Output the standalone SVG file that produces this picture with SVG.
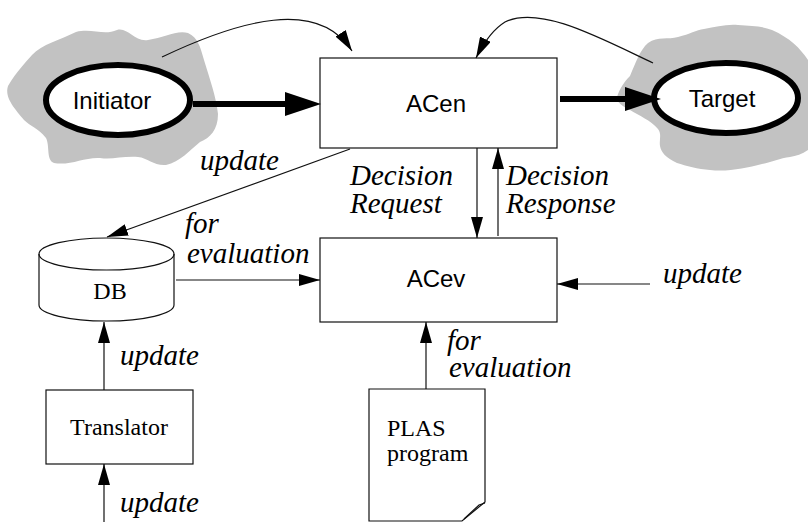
<svg xmlns="http://www.w3.org/2000/svg" width="808" height="522" viewBox="0 0 808 522">
<defs>
<style>
.box{fill:#fff;stroke:#111;stroke-width:1.2}
.ell{fill:#fff;stroke:#000;stroke-width:6}
.cloud{fill:#c2c2c2;stroke:none}
.sans{font-family:"Liberation Sans",Arial,sans-serif;font-size:24px;fill:#000}
.serif{font-family:"Liberation Serif","Times New Roman",serif;font-size:24px;fill:#000}
.lbl{font-family:"Liberation Serif","Times New Roman",serif;font-size:29px;font-style:italic;fill:#000}
.thin{fill:none;stroke:#111;stroke-width:1.2}
.thick{fill:none;stroke:#000;stroke-width:6}
</style>
<marker id="ah" markerUnits="userSpaceOnUse" markerWidth="22" markerHeight="12" refX="21" refY="6" orient="auto">
<path d="M0,0 L21,6 L0,12 z" fill="#000"/>
</marker>
</defs>

<g id="initiator">
<path class="cloud" d="M8,86 C16,72 26,62 32,55 C42,44 60,40 76,32 C92,28 104,36 117,30 C128,27 134,42 148,40 C164,38 176,30 188,33 C198,38 200,46 204,60 C210,80 216,96 218,114 C218,130 210,138 200,142 C190,150 180,162 166,165 C154,166 148,158 138,157 C122,156 112,160 100,158 C84,157 70,166 54,163 C46,160 50,146 46,138 C38,128 30,126 24,120 C16,110 4,98 8,86 Z"/>
<ellipse class="ell" cx="118" cy="100" rx="72" ry="35"/>
<text class="sans" x="112" y="109" text-anchor="middle">Initiator</text>
</g>

<g id="target">
<path class="cloud" d="M617,97 C620,88 624,82 630,76 C636,62 640,50 648,43 C658,36 668,40 678,37 C690,34 696,30 704,29 C716,27 726,24 738,25 C752,26 762,26 772,30 C790,38 800,48 808,60 L808,150 C802,154 796,156 790,157 C780,158 772,162 762,164 C746,168 728,172 710,170 C698,169 686,166 677,163 C666,158 661,152 660,146 C659,140 662,134 658,129 C650,120 640,116 630,110 C622,106 616,102 617,97 Z"/>
<ellipse class="ell" cx="726" cy="98" rx="72" ry="35"/>
<text class="sans" x="722" y="107" text-anchor="middle">Target</text>
</g>

<g id="acen">
<rect class="box" x="320" y="58" width="237" height="90"/>
<text class="sans" x="436" y="112" text-anchor="middle">ACen</text>
</g>

<g id="acev">
<rect class="box" x="320" y="238" width="237" height="84"/>
<text class="sans" x="436" y="287" text-anchor="middle">ACev</text>
</g>

<g id="db">
<path class="box" d="M39,254 L39,305 A67.5,16 0 0 0 174,305 L174,254 A67.5,16 0 0 0 39,254 Z"/>
<path class="thin" d="M39,254 A67.5,16 0 0 0 174,254"/>
<text class="serif" x="110" y="299" text-anchor="middle">DB</text>
</g>

<g id="translator">
<rect class="box" x="46" y="390" width="147" height="74"/>
<text class="serif" x="119" y="435" text-anchor="middle">Translator</text>
</g>

<g id="plas">
<path class="box" d="M369,389 L485,389 L485,502 L462,521 L369,521 Z"/>
<path class="thin" d="M464,519 L479,505 L485,503"/>
<text class="serif" x="387" y="436">PLAS</text>
<text class="serif" x="387" y="461">program</text>
</g>

<g id="connectors">
<line class="thick" x1="193" y1="104" x2="288" y2="104"/>
<polygon points="285,92 321,104 285,116" fill="#000"/>
<line class="thick" x1="560" y1="99" x2="628" y2="99"/>
<polygon points="625,87 661,99 625,111" fill="#000"/>
<path class="thin" d="M162,57 C240,20 318,-2 352,51" marker-end="url(#ah)"/>
<path class="thin" d="M653,63 C600,38 540,5 505,22 C492,30 483,44 476,58" marker-end="url(#ah)"/>
<line class="thin" x1="350" y1="149" x2="107" y2="237" marker-end="url(#ah)"/>
<line class="thin" x1="477" y1="148" x2="477" y2="238" marker-end="url(#ah)"/>
<line class="thin" x1="498" y1="236" x2="498" y2="148" marker-end="url(#ah)"/>
<line class="thin" x1="176" y1="280" x2="320" y2="280" marker-end="url(#ah)"/>
<line class="thin" x1="650" y1="284" x2="557" y2="284" marker-end="url(#ah)"/>
<line class="thin" x1="104" y1="390" x2="104" y2="322" marker-end="url(#ah)"/>
<line class="thin" x1="104" y1="522" x2="104" y2="464" marker-end="url(#ah)"/>
<line class="thin" x1="426" y1="389" x2="426" y2="322" marker-end="url(#ah)"/>
</g>

<g id="labels">
<text class="lbl" x="200" y="170">update</text>
<text class="lbl" x="350" y="185">Decision</text>
<text class="lbl" x="350" y="213">Request</text>
<text class="lbl" x="506" y="185">Decision</text>
<text class="lbl" x="506" y="213">Response</text>
<text class="lbl" x="185" y="233">for</text>
<text class="lbl" x="187" y="263">evaluation</text>
<text class="lbl" x="663" y="283">update</text>
<text class="lbl" x="120" y="365">update</text>
<text class="lbl" x="120" y="512">update</text>
<text class="lbl" x="447" y="350">for</text>
<text class="lbl" x="449" y="377">evaluation</text>
</g>
</svg>
